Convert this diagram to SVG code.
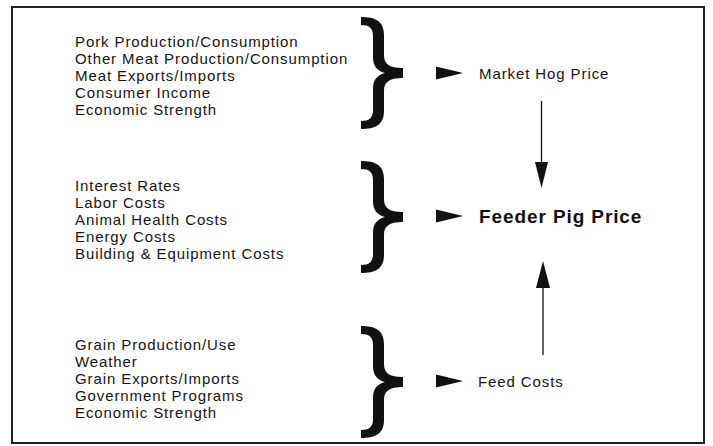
<svg xmlns="http://www.w3.org/2000/svg" width="713" height="446" viewBox="0 0 713 446">
  <style>
    .item { font-family: "Liberation Sans", Arial, sans-serif; font-size: 15px; letter-spacing: 0.9px; fill: #151515; }
    .lbl { font-family: "Liberation Sans", Arial, sans-serif; font-size: 15px; letter-spacing: 0.9px; fill: #151515; }
    .main { font-family: "Liberation Sans", Arial, sans-serif; font-size: 19px; font-weight: bold; letter-spacing: 0.9px; fill: #111; }
    .brace { fill: #111; }
    .head { fill: #111; }
    .line { stroke: #111; stroke-width: 1.3; fill: none; }
  </style>
  <defs>
    <path id="brace" class="brace" d="M0,-56 C14,-56 23,-52 23,-38 L23,-18 C23,-9 28,-5 42,-5 L42,5 C28,5 23,9 23,18 L23,38 C23,52 14,56 0,56 L0,48 C8,48 12,45 12,37 L12,16 C12,6 17,2 24,0 C17,-2 12,-6 12,-16 L12,-37 C12,-45 8,-48 0,-48 Z"/>
    <polygon id="rhead" class="head" points="0,-6.5 27,0 0,6.5"/>
  </defs>
  <rect x="0" y="0" width="713" height="446" fill="#fff"/>
  <rect x="12" y="7" width="692" height="436" fill="none" stroke="#222" stroke-width="2"/>

  <g id="market-factors">
    <text class="item" x="75" y="46.5">Pork Production/Consumption</text>
    <text class="item" x="75" y="63.5">Other Meat Production/Consumption</text>
    <text class="item" x="75" y="80.5">Meat Exports/Imports</text>
    <text class="item" x="75" y="97.5">Consumer Income</text>
    <text class="item" x="75" y="114.5">Economic Strength</text>
    <use href="#brace" x="361" y="73"/>
  </g>

  <g id="feeder-factors">
    <text class="item" x="75" y="191">Interest Rates</text>
    <text class="item" x="75" y="208">Labor Costs</text>
    <text class="item" x="75" y="225">Animal Health Costs</text>
    <text class="item" x="75" y="242">Energy Costs</text>
    <text class="item" x="75" y="259">Building &amp; Equipment Costs</text>
    <use href="#brace" x="361" y="217"/>
  </g>

  <g id="feed-factors">
    <text class="item" x="75" y="350">Grain Production/Use</text>
    <text class="item" x="75" y="367">Weather</text>
    <text class="item" x="75" y="384">Grain Exports/Imports</text>
    <text class="item" x="75" y="401">Government Programs</text>
    <text class="item" x="75" y="418">Economic Strength</text>
    <use href="#brace" x="361" y="382"/>
  </g>

  <g id="market-hog-price">
    <text class="lbl" x="479" y="79">Market Hog Price</text>
  </g>

  <g id="feeder-pig-price">
    <text class="main" x="479" y="223">Feeder Pig Price</text>
  </g>

  <g id="feed-costs">
    <text class="lbl" x="478" y="386.5">Feed Costs</text>
  </g>

  <g id="connectors">
    <use href="#rhead" x="436" y="73"/>
    <use href="#rhead" x="436" y="216"/>
    <use href="#rhead" x="436" y="381"/>
    <line class="line" x1="541.5" y1="101" x2="541.5" y2="165"/>
    <polygon class="head" points="535,162 548,162 541.5,188"/>
    <line class="line" x1="543" y1="355" x2="543" y2="285"/>
    <polygon class="head" points="536,288 550,288 543,261"/>
  </g>
</svg>
